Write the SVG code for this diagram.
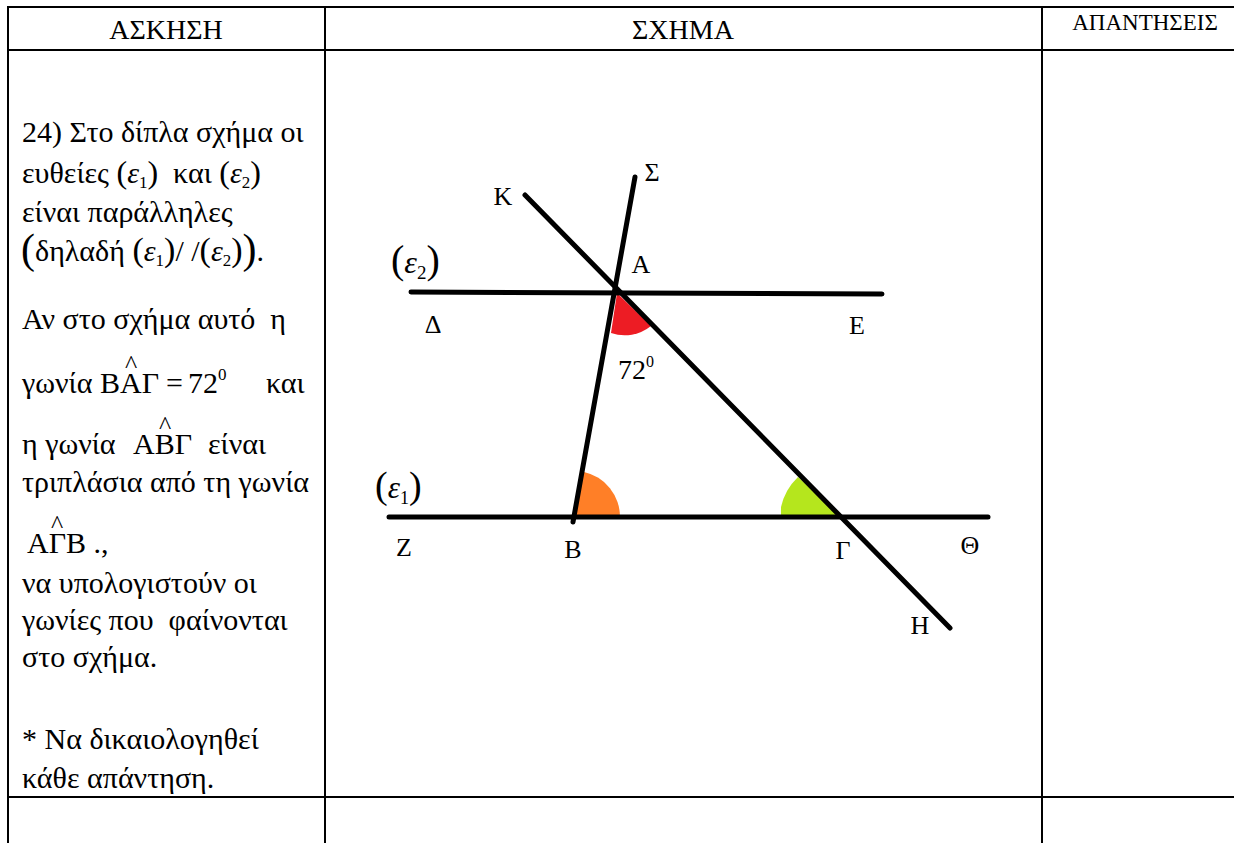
<svg xmlns="http://www.w3.org/2000/svg" width="1234" height="843" viewBox="0 0 1234 843">
<style>
text{font-family:"Liberation Serif",serif;fill:#000}
#exercise-text text{white-space:pre}
.grid{stroke:#000;stroke-width:2;fill:none}
.fig{stroke:#000;stroke-width:5;stroke-linecap:round;fill:none}
.it{font-style:italic}
.lbl{font-size:26px;text-anchor:middle}
.hat{font-size:26px}
.sub{font-size:17px}
</style>
<rect width="1234" height="843" fill="#fff"/>
<g id="table">
<line class="grid" x1="7" y1="7" x2="1234" y2="7"/>
<line class="grid" x1="7" y1="50" x2="1234" y2="50" stroke-width="3"/>
<line class="grid" x1="7" y1="797" x2="1234" y2="797" stroke-width="3"/>
<line class="grid" x1="8" y1="6" x2="8" y2="843"/>
<line class="grid" x1="325" y1="6" x2="325" y2="843"/>
<line class="grid" x1="1042" y1="6" x2="1042" y2="843"/>
<text x="166" y="39" font-size="28" text-anchor="middle">ΑΣΚΗΣΗ</text>
<text x="683" y="39" font-size="28" text-anchor="middle">ΣΧΗΜΑ</text>
<text x="1145" y="30" font-size="23" text-anchor="middle">ΑΠΑΝΤΗΣΕΙΣ</text>
</g>
<g id="exercise-text" font-size="30">
<text x="22" y="142">24) Στο δίπλα σχήμα οι</text>
<text x="22" y="183">ευθείες <tspan font-size="32">(</tspan><tspan class="it">ε</tspan><tspan class="sub" dy="5">1</tspan><tspan font-size="32" dy="-5">)</tspan>  και <tspan font-size="32">(</tspan><tspan class="it">ε</tspan><tspan class="sub" dy="5">2</tspan><tspan font-size="32" dy="-5">)</tspan></text>
<text x="22" y="222">είναι παράλληλες</text>
<text x="21" y="261"><tspan font-size="42" dy="2">(</tspan><tspan dy="-2">δηλαδή </tspan><tspan font-size="34">(</tspan><tspan class="it">ε</tspan><tspan class="sub" dy="5">1</tspan><tspan font-size="34" dy="-5">)</tspan>/ /<tspan font-size="34">(</tspan><tspan class="it">ε</tspan><tspan class="sub" dy="5">2</tspan><tspan font-size="34" dy="-5">)</tspan><tspan font-size="42" dy="2">)</tspan><tspan dy="-2">.</tspan></text>
<text x="22" y="329">Αν στο σχήμα αυτό  η</text>
<text y="393"><tspan x="22">γωνία</tspan><tspan x="100">ΒΑΓ</tspan><tspan x="166">=</tspan><tspan x="188">72</tspan><tspan class="sub" dy="-13">0</tspan><tspan x="266" dy="13">και</tspan><tspan class="hat" x="125" dy="-20">^</tspan></text>
<text y="454"><tspan x="22">η γωνία</tspan><tspan x="133">ΑΒΓ</tspan><tspan x="208">είναι</tspan><tspan class="hat" x="159" dy="-20">^</tspan></text>
<text x="22" y="492">τριπλάσια από τη γωνία</text>
<text y="553"><tspan x="27">ΑΓΒ .,</tspan><tspan class="hat" x="51" dy="-20">^</tspan></text>
<text x="22" y="593">να υπολογιστούν οι</text>
<text x="22" y="630">γωνίες που  φαίνονται</text>
<text x="22" y="667">στο σχήμα.</text>
<text x="22" y="749">* Να δικαιολογηθεί</text>
<text x="22" y="788">κάθε απάντηση.</text>
</g>
<g id="angles">
<path id="angle-A" d="M617,293 L611,333 A42,42 0 0 0 651,326 Z" fill="#ed1c24"/>
<path id="angle-B" d="M573,517 L584,472 A46,46 0 0 1 620,517 Z" fill="#ff7f27"/>
<path id="angle-G" d="M843,517 L798,477 A60,60 0 0 0 781,507 L781,517 Z" fill="#b5e61d"/>
</g>
<g id="connectors">
<line class="fig" x1="411" y1="292" x2="882" y2="294"/>
<line class="fig" x1="389" y1="517" x2="988" y2="517"/>
<line class="fig" x1="573" y1="522" x2="635" y2="177"/>
<line class="fig" x1="525" y1="195" x2="950" y2="628"/>
</g>
<g id="labels">
<text class="lbl" x="503" y="205">Κ</text>
<text class="lbl" x="652" y="181">Σ</text>
<text class="lbl" x="641" y="273">Α</text>
<text class="lbl" x="433" y="333">Δ</text>
<text class="lbl" x="857" y="334">Ε</text>
<text class="lbl" x="404" y="556">Ζ</text>
<text class="lbl" x="573" y="558">Β</text>
<text class="lbl" x="843" y="559">Γ</text>
<text class="lbl" x="970" y="554">Θ</text>
<text class="lbl" x="920" y="634">Η</text>
<text x="618" y="379" font-size="28">72<tspan font-size="16" dy="-12">0</tspan></text>
<text x="391" y="273"><tspan font-size="40">(</tspan><tspan class="it" font-size="32">ε</tspan><tspan font-size="19" dy="6">2</tspan><tspan font-size="40" dy="-6">)</tspan></text>
<text x="375" y="498"><tspan font-size="38">(</tspan><tspan class="it" font-size="31">ε</tspan><tspan font-size="18" dy="6">1</tspan><tspan font-size="38" dy="-6">)</tspan></text>
</g>
</svg>
